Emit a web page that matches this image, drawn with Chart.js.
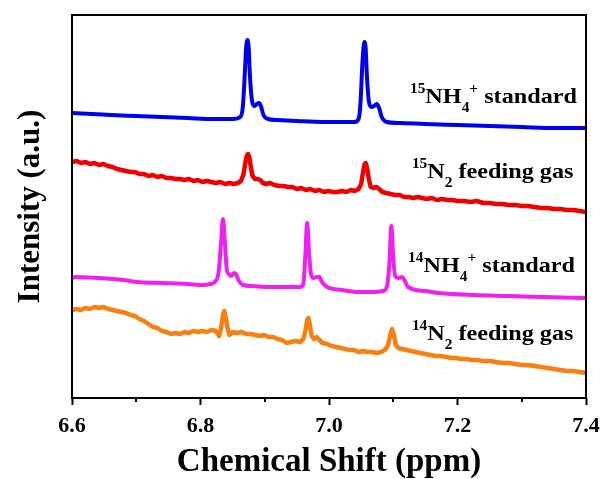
<!DOCTYPE html>
<html>
<head>
<meta charset="utf-8">
<script src="https://cdn.jsdelivr.net/npm/chart.js@4.4.1/dist/chart.umd.min.js"></script>
<style>
  html, body { margin: 0; padding: 0; background: #ffffff; }
  #wrap { position: relative; width: 603px; height: 479px; }
</style>
</head>
<body>
<div id="wrap"><canvas id="c"></canvas></div>
<script>
// ---------------- data (chemical shift in ppm, intensity in a.u.) ----------------
const xTickValues = [6.6, 6.8, 7.0, 7.2, 7.4];
const xMinorTickValues = [6.7, 6.9, 7.1, 7.3];

const nh4_15Shift = [6.600,6.630,6.660,6.700,6.740,6.780,6.820,6.850,6.862,6.866,6.869,6.871,6.873,6.875,6.877,6.880,6.884,6.888,6.891,6.894,6.898,6.905,6.920,6.950,6.990,7.020,7.040,7.046,7.049,7.052,7.054,7.055,7.057,7.059,7.062,7.066,7.070,7.074,7.078,7.082,7.090,7.110,7.150,7.200,7.250,7.300,7.350,7.400];
const nh4_15Int   = [285,284,283,282,281,280,279,279,281,292,325,350,358,350,322,298,292,294,295,292,283,279,278,277,276,276,276,279,295,335,352,356,350,322,297,291,292,294,290,281,276,275,274,273,272,271,270,270];

const n2_15Shift = [6.600,6.607,6.614,6.621,6.628,6.635,6.642,6.649,6.656,6.663,6.670,6.677,6.684,6.691,6.698,6.705,6.712,6.719,6.726,6.733,6.740,6.747,6.754,6.761,6.768,6.775,6.782,6.789,6.796,6.803,6.810,6.817,6.824,6.831,6.838,6.845,6.852,6.858,6.863,6.867,6.870,6.872,6.874,6.876,6.878,6.881,6.885,6.889,6.893,6.897,6.902,6.908,6.915,6.922,6.929,6.936,6.943,6.950,6.957,6.964,6.971,6.978,6.985,6.992,6.999,7.006,7.013,7.020,7.027,7.034,7.040,7.046,7.050,7.053,7.055,7.057,7.059,7.062,7.065,7.069,7.074,7.078,7.083,7.089,7.096,7.103,7.110,7.117,7.124,7.131,7.138,7.145,7.152,7.160,7.168,7.176,7.184,7.192,7.200,7.210,7.220,7.230,7.240,7.250,7.260,7.270,7.280,7.290,7.300,7.310,7.320,7.330,7.340,7.350,7.360,7.370,7.380,7.390,7.400];
const n2_15Int   = [236,237,235,236,234,235,233,234,232,231,229,228,227,226,226,224,224,222,223,221,222,220,220,219,219,218,219,217,218,216,217,216,215,216,214,215,214,215,217,224,236,242,244,241,232,222,219,219,218,215,214,215,213,212,212,211,211,209,210,208,209,207,208,206,207,206,206,207,206,208,207,209,214,226,233,235,231,219,211,210,211,209,206,205,204,203,203,201,201,200,201,200,199,200,198,199,198,198,197,197,196,197,195,195,194,194,193,193,192,192,191,190,190,189,189,188,188,187,186];

const nh4_14Shift = [6.600,6.605,6.640,6.680,6.701,6.740,6.780,6.804,6.815,6.822,6.828,6.832,6.835,6.838,6.841,6.844,6.848,6.852,6.855,6.860,6.866,6.880,6.908,6.940,6.955,6.960,6.963,6.966,6.969,6.972,6.976,6.981,6.985,6.989,6.997,7.020,7.044,7.070,7.084,7.090,7.094,7.097,7.100,7.103,7.108,7.114,7.118,7.123,7.150,7.171,7.224,7.280,7.332,7.400];
const nh4_14Int   = [120,121,120,118,116,115,114,113,114,116,125,155,179,155,128,124,122,125,124,117,113,112,111,111,111,114,140,175,145,124,120,121,121,116,111,108,106,106,107,111,135,172,140,122,120,121,117,111,107,105,103,102,101,100];

const n2_14Shift = [6.600,6.607,6.614,6.621,6.628,6.635,6.642,6.649,6.656,6.663,6.670,6.677,6.684,6.691,6.698,6.705,6.712,6.719,6.726,6.733,6.740,6.747,6.754,6.761,6.768,6.775,6.782,6.789,6.796,6.803,6.810,6.817,6.824,6.829,6.832,6.835,6.837,6.839,6.842,6.845,6.850,6.857,6.864,6.871,6.878,6.885,6.892,6.899,6.906,6.913,6.920,6.927,6.934,6.941,6.948,6.955,6.960,6.963,6.966,6.968,6.970,6.973,6.977,6.981,6.985,6.990,6.997,7.004,7.011,7.018,7.025,7.032,7.039,7.046,7.053,7.060,7.067,7.074,7.081,7.087,7.092,7.095,7.098,7.101,7.104,7.108,7.114,7.121,7.128,7.135,7.142,7.150,7.158,7.166,7.174,7.182,7.190,7.198,7.206,7.214,7.222,7.230,7.240,7.250,7.260,7.270,7.280,7.290,7.300,7.310,7.320,7.330,7.340,7.350,7.360,7.370,7.380,7.390,7.400];
const n2_14Int   = [88,89,88,90,89,91,90,91,89,88,87,86,85,83,82,79,77,74,71,70,67,66,64,65,64,66,65,67,66,67,66,68,67,62,70,83,87,82,70,63,66,65,66,64,64,63,62,63,61,61,59,58,55,56,57,56,59,66,78,80,74,62,59,61,58,55,54,52,51,50,49,48,48,46,47,46,46,45,46,48,53,62,69,63,53,50,49,48,47,46,45,44,43,42,42,41,40,40,39,39,38,38,37,37,36,35,35,34,33,33,32,31,30,29,28,27,27,26,25];

const seriesNames = ['15NH4+ standard', '15N2 feeding gas', '14NH4+ standard', '14N2 feeding gas'];
// label pieces: [text, role]  role: '' normal, 'sup' superscript, 'sub' subscript
const labelPieces = [
  [['15','sup'],['NH',''],['4','sub'],['+','sup'],[' standard','']],
  [['15','sup'],['N',''],['2','sub'],[' feeding gas','']],
  [['14','sup'],['NH',''],['4','sub'],['+','sup'],[' standard','']],
  [['14','sup'],['N',''],['2','sub'],[' feeding gas','']]
];

// ---------------- build chart ----------------
function pts(xs, ys) { return xs.map((x, i) => ({ x: x, y: ys[i] })); }

const colors = ['#0000ee', '#f00000', '#f020f0', '#f88010'];
const widths = [4, 4.5, 4, 4.5];
const modes = ['monotone', 'none', 'monotone', 'none'];
const seriesData = [
  pts(nh4_15Shift, nh4_15Int),
  pts(n2_15Shift, n2_15Int),
  pts(nh4_14Shift, nh4_14Int),
  pts(n2_14Shift, n2_14Int)
];

const labelPlugin = {
  id: 'spectrumLabels',
  afterDraw(chart, args, opts) {
    const ctx = chart.ctx;
    const xs = chart.scales.x, ys = chart.scales.y;
    const ca = chart.chartArea;
    ctx.save();
    ctx.strokeStyle = '#000';
    ctx.lineWidth = 2;
    ctx.strokeRect(ca.left, ca.top, ca.right - ca.left, ca.bottom - ca.top);
    xMinorTickValues.forEach(v => {
      const px = Math.round(xs.getPixelForValue(v));
      ctx.beginPath();
      ctx.moveTo(px, ca.bottom);
      ctx.lineTo(px, ca.bottom + 4);
      ctx.stroke();
    });
    ctx.restore();

    ctx.save();
    ctx.fillStyle = '#000';
    ctx.textBaseline = 'alphabetic';
    ctx.textAlign = 'left';
    const stretch = opts.stretch;
    opts.anchors.forEach((a, i) => {
      const x0 = xs.getPixelForValue(a[0]);
      const y0 = ys.getPixelForValue(a[1]);
      ctx.save();
      ctx.translate(x0, y0);
      ctx.scale(stretch, 1);
      let cx = 0;
      labelPieces[i].forEach(([t, role]) => {
        let dy = 0;
        if (role === 'sup') { ctx.font = opts.smallFont; dy = opts.supShift; }
        else if (role === 'sub') { ctx.font = opts.smallFont; dy = opts.subShift; }
        else { ctx.font = opts.mainFont; }
        ctx.fillText(t, cx, dy);
        cx += ctx.measureText(t).width;
      });
      ctx.restore();
    });
    ctx.restore();
  }
};

new Chart(document.getElementById('c'), {
  type: 'line',
  data: {
    datasets: seriesData.map((d, i) => ({
      label: seriesNames[i],
      data: d,
      borderColor: colors[i],
      backgroundColor: colors[i],
      borderWidth: widths[i],
      pointRadius: 0,
      fill: false,
      tension: modes[i] === 'monotone' ? 0.4 : 0,
      cubicInterpolationMode: modes[i] === 'monotone' ? 'monotone' : 'default',
      borderJoinStyle: 'round',
      borderCapStyle: 'round'
    }))
  },
  options: {
    responsive: true,
    maintainAspectRatio: false,
    animation: false,
    devicePixelRatio: 1,
    layout: { padding: { top: 15, right: 17, left: 0, bottom: 0 } },
    plugins: {
      legend: { display: false },
      tooltip: { enabled: false },
      spectrumLabels: {
        anchors: [[7.126, 295], [7.129, 220], [7.123, 126], [7.129, 58]],
        mainFont: 'bold 22px "Liberation Serif"',
        smallFont: 'bold 14px "Liberation Serif"',
        supShift: -10,
        subShift: 9,
        stretch: 1.1
      }
    },
    scales: {
      x: {
        type: 'linear',
        min: 6.6,
        max: 7.4,
        afterBuildTicks: (s) => { s.ticks = xTickValues.map(v => ({ value: v })); },
        afterFit: (s) => { s.height = 81; s.paddingLeft = 0; s.paddingRight = 0; },
        ticks: {
          color: '#000',
          font: { family: '"Liberation Serif"', size: 22, weight: 'bold' },
          padding: 8,
          maxRotation: 0,
          autoSkip: false,
          callback: (v) => Number(v).toFixed(1)
        },
        grid: {
          drawOnChartArea: false,
          drawTicks: true,
          tickLength: 7,
          tickWidth: 2,
          tickColor: '#000'
        },
        border: { display: false },
        title: {
          display: true,
          text: 'Chemical Shift (ppm)',
          color: '#000',
          font: { family: '"Liberation Serif"', size: 33, weight: 'bold', lineHeight: 1 },
          padding: { top: 0, bottom: 0 }
        }
      },
      y: {
        type: 'linear',
        min: 0,
        max: 383,
        afterFit: (s) => { s.width = 72; s.paddingTop = 0; s.paddingBottom = 0; },
        ticks: { display: false },
        grid: { drawOnChartArea: false, drawTicks: false },
        border: { display: false },
        title: {
          display: true,
          text: 'Intensity (a.u.)',
          color: '#000',
          font: { family: '"Liberation Serif"', size: 31, weight: 'bold', lineHeight: 1 },
          padding: { top: 15, bottom: 0 }
        }
      }
    }
  },
  plugins: [labelPlugin]
});
</script>
</body>
</html>
